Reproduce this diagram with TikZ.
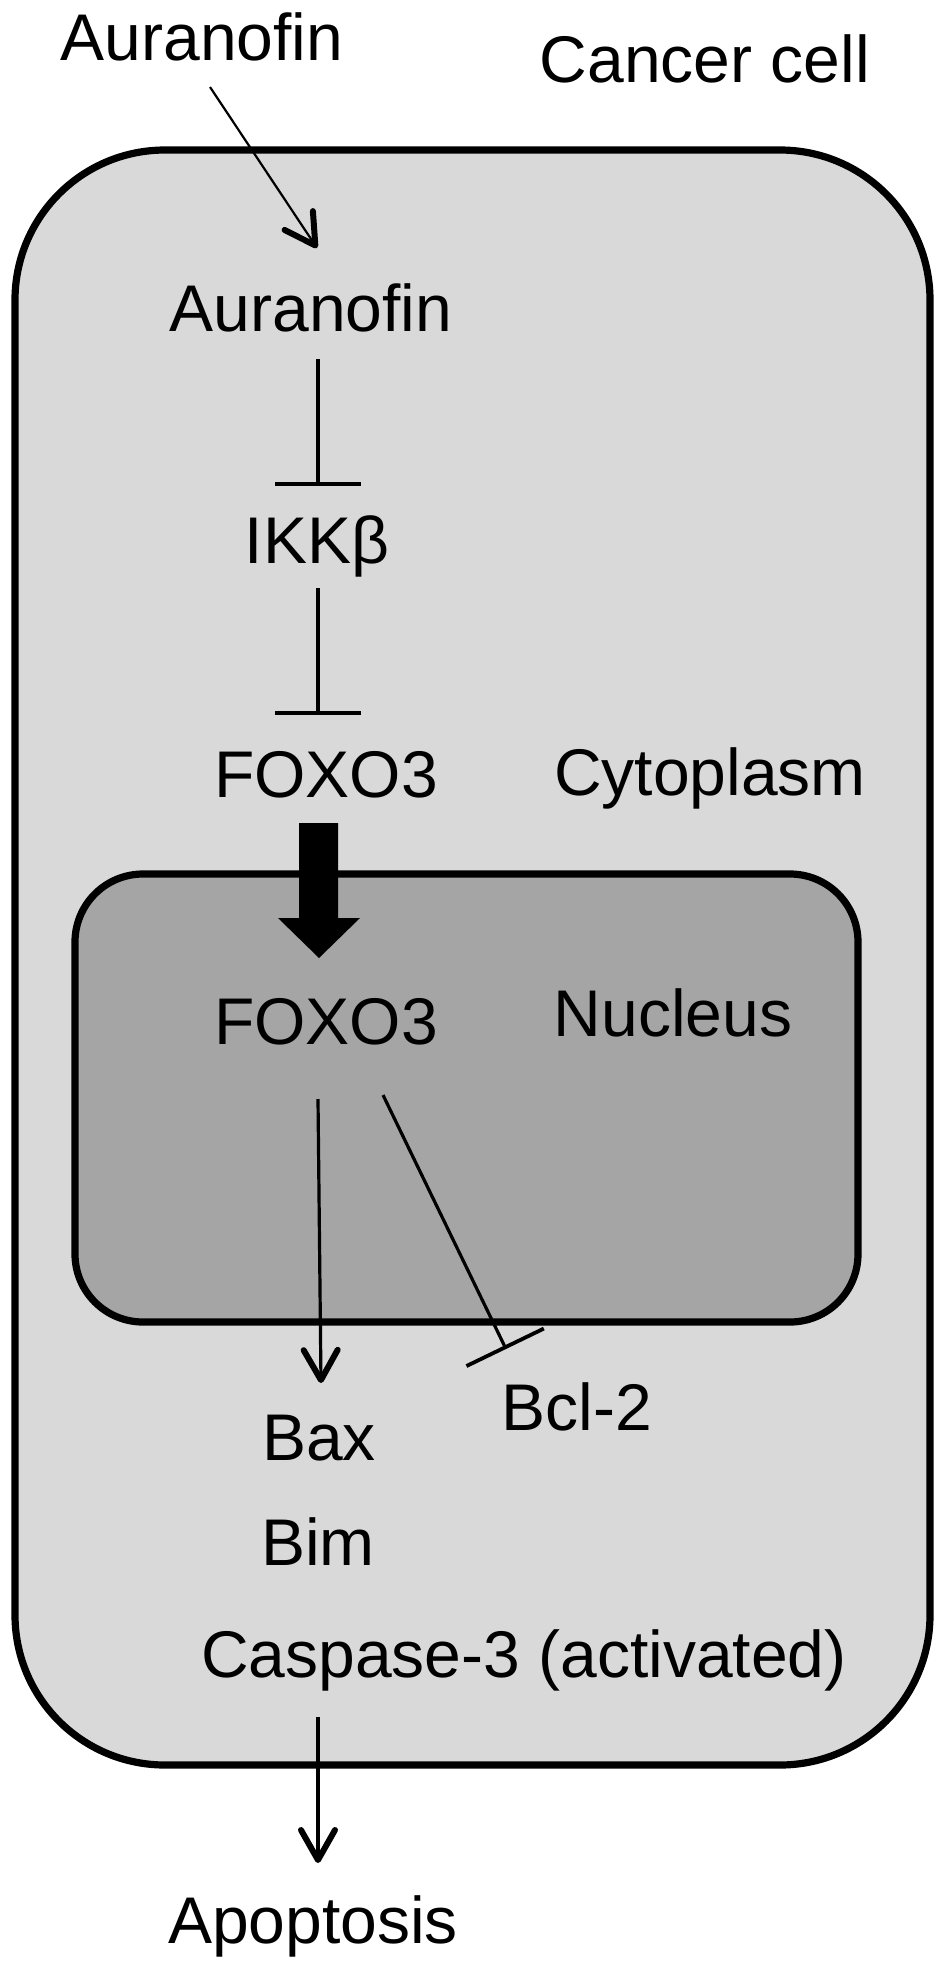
\documentclass[tikz,border=0pt]{standalone}
\usepackage{fontspec}
\setmainfont{Liberation Sans}
\usetikzlibrary{arrows.meta,calc}
\definecolor{cellgray}{RGB}{217,217,217}
\definecolor{nucgray}{RGB}{165,165,165}
\begin{document}
\begin{tikzpicture}[x=0.5pt,y=-0.5pt,
  lbl/.style={font=\fontsize{33pt}{40pt}\selectfont, inner sep=0pt, anchor=base},
  conn/.style={line width=1.6pt},
  act/.style={conn, -{Straight Barb[length=15pt,width=17pt,line width=3pt,round]}},
  inh/.style={conn, -{Bar[width=43pt,line width=1.9pt]}},
  compartment/.style={line width=3.6pt, draw=black}]
\useasboundingbox (0,0) rectangle (945,1965);
\fill[white] (0,0) rectangle (945,1965);
% compartments
\draw[compartment, fill=cellgray, rounded corners=75pt] (15,150) rectangle (930,1765);
\draw[compartment, fill=nucgray, rounded corners=34pt] (75,874) rectangle (858,1322);
% labels
\node[lbl] (aur1) at (202,60) {Auranofin};
\node[lbl] (cell) at (705,82) {Cancer cell};
\node[lbl] (aur2) at (311,331) {Auranofin};
\node[lbl] (ikk) at (317,563) {IKKβ};
\node[lbl] (foxo1) at (326,797) {FOXO3};
\node[lbl] (cyto) at (710,795) {Cytoplasm};
\node[lbl] (foxo2) at (326,1044) {FOXO3};
\node[lbl] (nuc) at (673,1036) {Nucleus};
\node[lbl] (bax) at (319,1460) {Bax};
\node[lbl] (bcl) at (577,1430) {Bcl-2};
\node[lbl] (bim) at (318,1565) {Bim};
\node[lbl] (casp) at (524,1677) {Caspase-3 (activated)};
\node[lbl] (apo) at (313,1943) {Apoptosis};
% connectors
\draw[act, line width=1.1pt] ($(aur1.base)+(8,27)$) -- ($(aur2.base)+(6,-83)$);
\draw[inh] ($(aur2.base)+(7,28)$) -- ($(ikk.base)+(1,-77)$);
\draw[inh] ($(ikk.base)+(1,25)$) -- ($(foxo1.base)+(-8,-82)$);
\fill[black] ($(foxo1.base)+(-27,26)$) -- ($(foxo1.base)+(12,26)$) -- ($(foxo1.base)+(12,121)$)
  -- ($(foxo1.base)+(34,121)$) -- ($(foxo1.base)+(-7,161)$) -- ($(foxo1.base)+(-48,121)$)
  -- ($(foxo1.base)+(-27,121)$) -- cycle;
\draw[act] ($(foxo2.base)+(-8,55)$) -- ($(bax.base)+(2,-77)$);
\draw[inh] ($(foxo2.base)+(57,51)$) -- ($(bcl.base)+(-71,-81)$);
\draw[act] ($(casp.base)+(-206,40)$) -- ($(apo.base)+(5,-80)$);
\end{tikzpicture}
\end{document}
